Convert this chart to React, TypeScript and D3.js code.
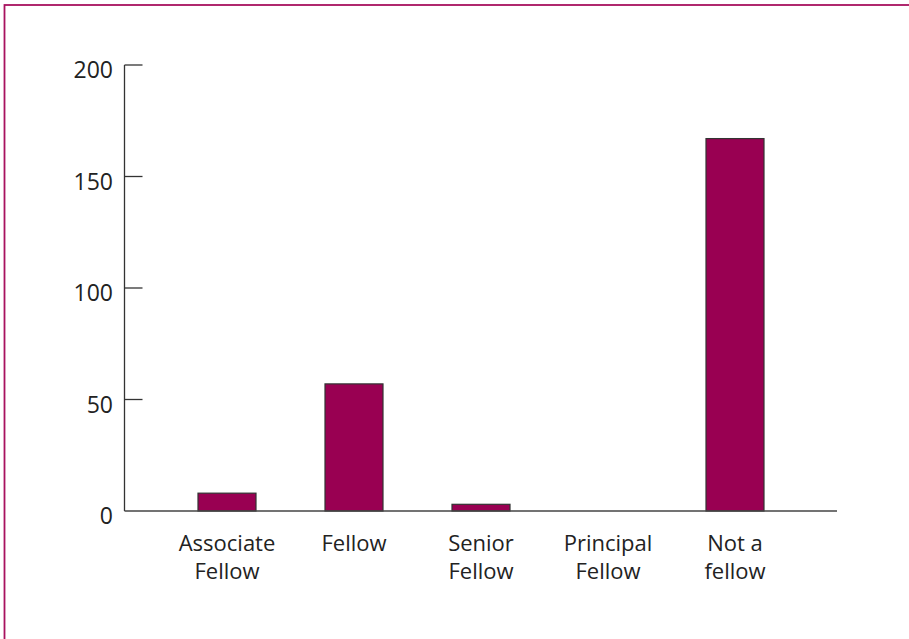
import React from "react";
import * as d3 from "d3";

const categories: string[][] = [
  ["Associate", "Fellow"],
  ["Fellow"],
  ["Senior", "Fellow"],
  ["Principal", "Fellow"],
  ["Not a", "fellow"],
];
const values: number[] = [8, 57, 3, 0, 167];
const yTicks: number[] = [0, 50, 100, 150, 200];

const W = 909;
const H = 639;
const FONT = "'Open Sans', 'Noto Sans', sans-serif";

export default function App() {
  const keys = categories.map((c) => c.join(" "));
  const x = d3
    .scaleBand<string>()
    .domain(keys)
    .range([163.5, 798.5])
    .paddingInner(69 / 127)
    .paddingOuter(69 / 254);
  const y = d3.scaleLinear().domain([0, 200]).range([511, 65]);
  const axisX = 124.5;
  const baseEnd = 837;

  return (
    <svg
      width={W}
      height={H}
      style={{ position: "absolute", left: 0, top: 0, background: "#fff" }}
      fontFamily={FONT}
    >
      <rect x={4.5} y={5} width={W + 20} height={H + 20} fill="none" stroke="#a8125f" strokeWidth={1.8} />
      {values.map((v, i) => (
        <rect
          key={keys[i]}
          x={x(keys[i])!}
          y={y(v)}
          width={x.bandwidth()}
          height={y(0) - y(v)}
          fill="#990052"
          stroke="#333"
          strokeWidth={1.2}
          opacity={v > 0 ? 1 : 0}
        />
      ))}
      <line x1={axisX} x2={axisX} y1={y(200)} y2={y(0)} stroke="#333" strokeWidth={1.3} />
      <line x1={axisX} x2={baseEnd} y1={y(0)} y2={y(0)} stroke="#444" strokeWidth={1.3} />
      {yTicks.map((t) => (
        <g key={t}>
          {t > 0 && (
            <line x1={axisX} x2={axisX + 18} y1={y(t)} y2={y(t)} stroke="#333" strokeWidth={1.3} />
          )}
          <text x={113} y={y(t) + 13} textAnchor="end" fontSize={23} fill="#222">
            {t}
          </text>
        </g>
      ))}
      {categories.map((lines, i) => (
        <text
          key={keys[i]}
          x={x(keys[i])! + x.bandwidth() / 2}
          y={551}
          textAnchor="middle"
          fontSize={22}
          fill="#222"
        >
          {lines.map((l, j) => (
            <tspan key={j} x={x(keys[i])! + x.bandwidth() / 2} dy={j === 0 ? 0 : 28}>
              {l}
            </tspan>
          ))}
        </text>
      ))}
    </svg>
  );
}
